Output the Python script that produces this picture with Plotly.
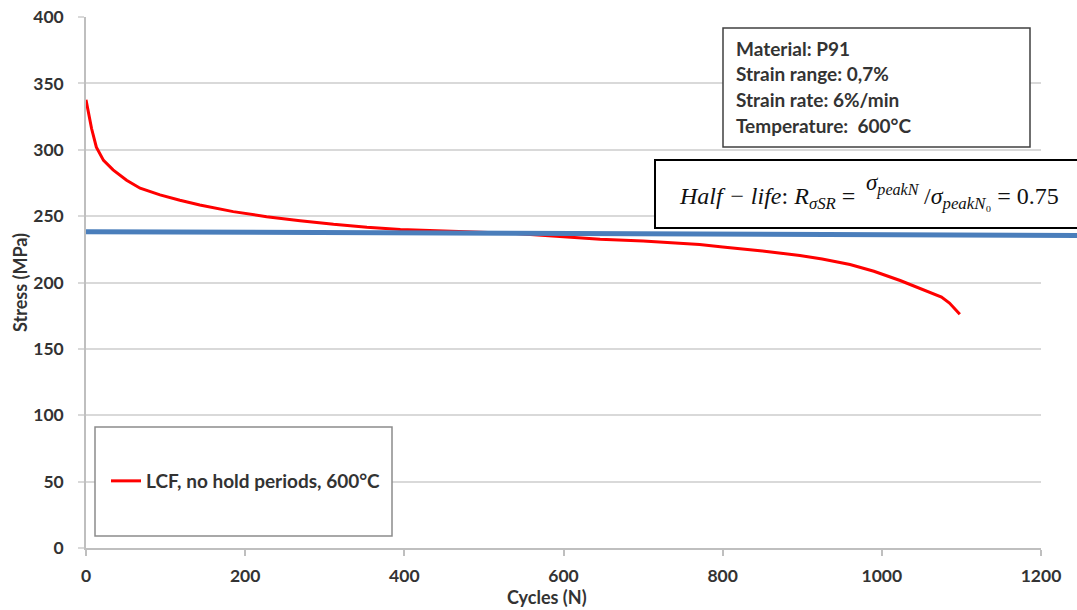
import plotly.graph_objects as go

# Peak stress per cycle, LCF test on P91 at 600°C
cycles = [0, 3, 7, 13, 22, 34, 51, 68, 93, 118, 143, 185, 227, 269, 311, 353,
          395, 450, 495, 540, 600, 646, 700, 746, 771, 800, 850, 897, 925, 960,
          990, 1023, 1040, 1060, 1075, 1085, 1098]
stress = [337.6, 327.5, 316, 302, 292, 284.8, 277, 271, 266, 262, 258.4, 253.4,
          249.6, 246.6, 243.8, 241.6, 240, 238.8, 238, 237, 234.5, 232.5, 231.2,
          229.7, 228.6, 226.7, 223.8, 220.3, 217.7, 213.5, 208.5, 201.5, 197.5,
          193, 189, 184.5, 176]

series_name = "LCF, no hold periods, 600°C"
half_life_stress = [238.3, 235.4]   # reference line, left end / right end
info_lines = ["Material: P91", "Strain range: 0,7%", "Strain rate: 6%/min",
              "Temperature:  600°C"]
x_ticks = [0, 200, 400, 600, 800, 1000, 1200]
y_ticks = [0, 50, 100, 150, 200, 250, 300, 350, 400]

W, H = 1077, 610
L, R, T, B = 86, 36, 17, 62
pw, ph = W - L - R, H - T - B


def px(xp):
    return (xp - L) / pw


def py(yp):
    return (H - B - yp) / ph


FONT = "Lato, 'Open Sans', sans-serif"
SERIF = "'Liberation Serif', 'DejaVu Serif', serif"
DARK = "#333333"

fig = go.Figure()
fig.add_trace(go.Scatter(
    x=cycles, y=stress, mode="lines", name=series_name,
    line=dict(color="#ff0000", width=3), showlegend=True))

shapes = []
# half-life reference line
shapes.append(dict(type="line", xref="paper", yref="y",
                   x0=0, x1=px(W + 2), y0=half_life_stress[0], y1=half_life_stress[1],
                   line=dict(color="#4a7ebb", width=5), layer="above"))
# info box
shapes.append(dict(type="rect", xref="paper", yref="paper",
                   x0=px(723), x1=px(1030), y0=py(147), y1=py(28),
                   fillcolor="white", line=dict(color="#404040", width=1.5), layer="above"))
# formula box
shapes.append(dict(type="rect", xref="paper", yref="paper",
                   x0=px(655), x1=px(W + 5), y0=py(228), y1=py(160),
                   fillcolor="white", line=dict(color="#000000", width=2), layer="above"))
# legend box
shapes.append(dict(type="rect", xref="paper", yref="paper",
                   x0=px(95), x1=px(392), y0=py(536), y1=py(427),
                   fillcolor="white", line=dict(color="#8c8c8c", width=1.5), layer="above"))

annotations = []
for i, t in enumerate(info_lines):
    annotations.append(dict(
        xref="paper", yref="paper", x=px(734), y=py(48 + i * 25.7),
        xanchor="left", yanchor="middle", showarrow=False, text=t,
        font=dict(family=FONT, size=19, color=DARK, weight="bold")))

# half-life ratio: left side, raised numerator, slash + denominator
formula_font = dict(family=SERIF, size=24, color="#111111")
annotations.append(dict(
    xref="paper", yref="paper", x=px(857), y=py(198),
    xanchor="right", yanchor="middle", showarrow=False,
    text="<i>Half − life</i>: <i>R</i><sub><i>σSR</i></sub> =", font=formula_font))
annotations.append(dict(
    xref="paper", yref="paper", x=px(864), y=py(185),
    xanchor="left", yanchor="middle", showarrow=False,
    text="<i>σ</i><sub><i>peakN</i></sub>", font=dict(family=SERIF, size=23, color="#111111")))
annotations.append(dict(
    xref="paper", yref="paper", x=px(922), y=py(198),
    xanchor="left", yanchor="middle", showarrow=False,
    text="/<i>σ</i><sub><i>peakN</i>₀</sub> = 0.75", font=formula_font))

# axis titles
annotations.append(dict(
    xref="paper", yref="paper", x=px(547), y=py(597),
    xanchor="center", yanchor="middle", showarrow=False, text="Cycles (N)",
    font=dict(family=FONT, size=18, color=DARK, weight="bold")))
annotations.append(dict(
    xref="paper", yref="paper", x=px(20), y=py(283),
    xanchor="center", yanchor="middle", showarrow=False, text="Stress (MPa)",
    textangle=-90,
    font=dict(family=FONT, size=18, color=DARK, weight="bold")))

fig.update_layout(
    width=W, height=H,
    margin=dict(l=L, r=R, t=T, b=B, pad=0),
    plot_bgcolor="white", paper_bgcolor="white",
    shapes=shapes, annotations=annotations,
    legend=dict(x=px(106), y=py(481), xanchor="left", yanchor="middle",
                bgcolor="rgba(0,0,0,0)", borderwidth=0,
                font=dict(family=FONT, size=19, color=DARK, weight="bold"),
                itemwidth=30),
    xaxis=dict(range=[0, 1200], tickvals=x_ticks, showgrid=False, automargin=False,
               showline=True, linecolor="#bfbfbf", linewidth=1.5,
               ticks="outside", ticklen=6, tickcolor="#bfbfbf", tickwidth=1.5,
               tickfont=dict(family=FONT, size=17.5, color=DARK, weight="bold"),
               ticklabelstandoff=5, zeroline=False),
    yaxis=dict(range=[0, 400], tickvals=y_ticks, showgrid=True, automargin=False,
               gridcolor="#d9d9d9", gridwidth=1.5,
               showline=True, linecolor="#bfbfbf", linewidth=1.5,
               ticks="outside", ticklen=6, tickcolor="#d9d9d9", tickwidth=1.5,
               tickfont=dict(family=FONT, size=17.5, color=DARK, weight="bold"),
               ticklabelstandoff=11, zeroline=False),
)

fig.write_html("out.html")
